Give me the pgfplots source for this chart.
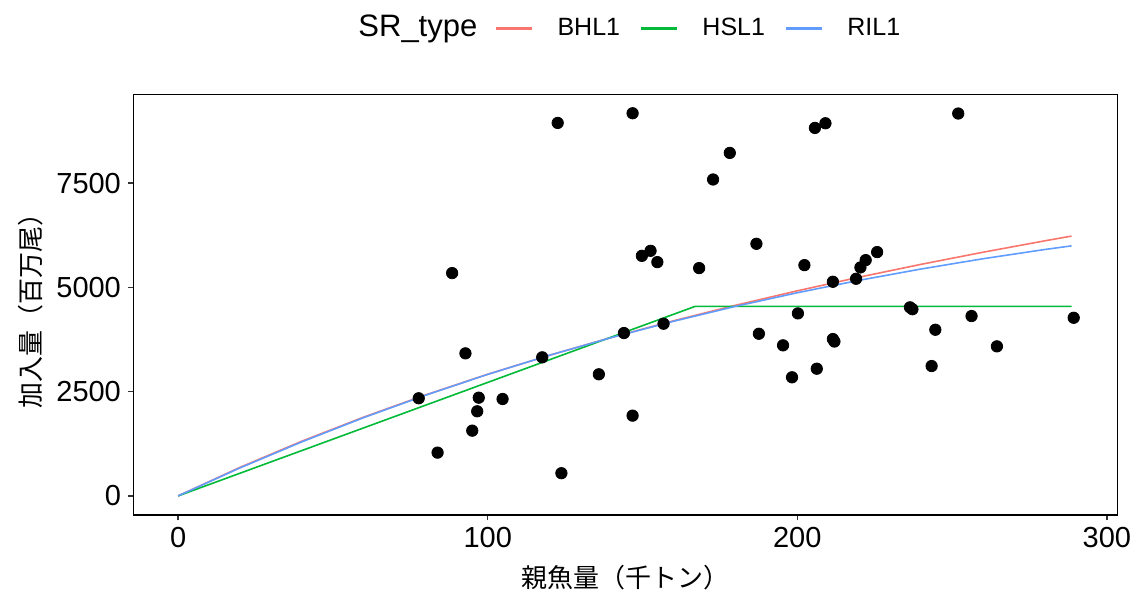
\documentclass[border=0pt]{standalone}
\usepackage{fontspec}
\setmainfont{Liberation Sans}
\newfontfamily\jp{Noto Sans CJK JP}
\usepackage{pgfplots}
\pgfplotsset{compat=1.18}
\definecolor{bhl}{HTML}{F8766D}
\definecolor{hsl}{HTML}{00BA38}
\definecolor{ril}{HTML}{619CFF}
\definecolor{tk}{HTML}{333333}
\begin{document}
\begin{tikzpicture}
\begin{axis}[
    scale only axis,
    width=492.1pt, height=210.15pt,
    xmin=-14.45, xmax=303.5,
    ymin=-458, ymax=9618,
    xtick={0,100,200,300},
    ytick={0,2500,5000,7500},
    tick pos=left,
    tick align=outside,
    major tick length=2.75pt,
    every tick/.style={tk, line width=0.75pt},
    axis line style={line width=0.75pt},
    /pgf/number format/assume math mode=true,
    /pgf/number format/set thousands separator={},
    ticklabel style={font=\fontsize{14.5}{16}\selectfont, text=black},
    xlabel={\jp 親魚量（千トン）},
    ylabel={\jp 加入量（百万尾）},
    label style={font=\fontsize{13}{15}\selectfont},
    xlabel style={at={(axis description cs:0.5,-0.15)}, anchor=center},
    ylabel style={at={(axis description cs:-0.105,0.5)}, anchor=center},
    clip=false,
    legend columns=3,
    legend style={draw=none, fill=none, font=\fontsize{12.5}{14}\selectfont,
        at={(axis description cs:0.361,1.157)}, anchor=west,
        /tikz/every even column/.append style={column sep=8pt},
        /tikz/every odd column/.append style={column sep=10pt}},
    legend image code/.code={\draw[#1, line width=1.2pt] (0pt,0pt) -- (18pt,0pt);},
]
\path (rel axis cs:-0.1356,-0.1975) rectangle (rel axis cs:1.0227,1.2253);
\addplot[only marks, mark=*, mark size=2.85pt, black, forget plot] coordinates {
(122.6,8941) (146.8,9173) (178.2,8222) (172.8,7585) (88.5,5341)
(152.6,5875) (149.8,5755) (154.8,5604) (168.3,5461) (186.8,6043)
(205.7,8821) (209.1,8933) (252.0,9166) (202.3,5532) (225.8,5844)
(222.1,5652) (220.4,5477) (219.0,5205) (211.5,5133) (77.7,2340)
(92.8,3417) (83.8,1037) (97.1,2354) (96.6,2028) (95.0,1564)
(104.8,2323) (117.6,3322) (123.8,544) (135.9,2915) (146.8,1924)
(144.0,3904) (156.8,4127) (187.6,3887) (200.2,4375) (195.4,3609)
(198.3,2843) (206.3,3049) (211.5,3760) (212.0,3700) (236.4,4520)
(237.2,4475) (244.6,3983) (243.4,3113) (256.3,4311) (264.5,3585)
(289.3,4270)
};
\addplot[bhl, line width=0.8pt] coordinates {
(0,0) (20,685) (40,1313) (60,1890) (80,2423) (100,2916) (120,3373)
(140,3799) (160,4197) (180,4568) (200,4916) (220,5243) (240,5551)
(260,5841) (280,6115) (288.6,6228)
};
\addlegendentry{BHL1}
\addplot[hsl, line width=0.8pt] coordinates {
(0,0) (167,4543) (288.6,4543)
};
\addlegendentry{HSL1}
\addplot[ril, line width=0.8pt] coordinates {
(0,0) (20,672) (40,1297) (60,1878) (80,2415) (100,2913) (120,3372)
(140,3796) (160,4185) (180,4543) (200,4870) (220,5168) (240,5439)
(260,5685) (280,5907) (288.6,5994)
};
\addlegendentry{RIL1}
\node[font=\fontsize{15.5}{18}\selectfont, anchor=center] at (axis description cs:0.289,1.157) {SR\_type};
\end{axis}
\end{tikzpicture}
\end{document}
